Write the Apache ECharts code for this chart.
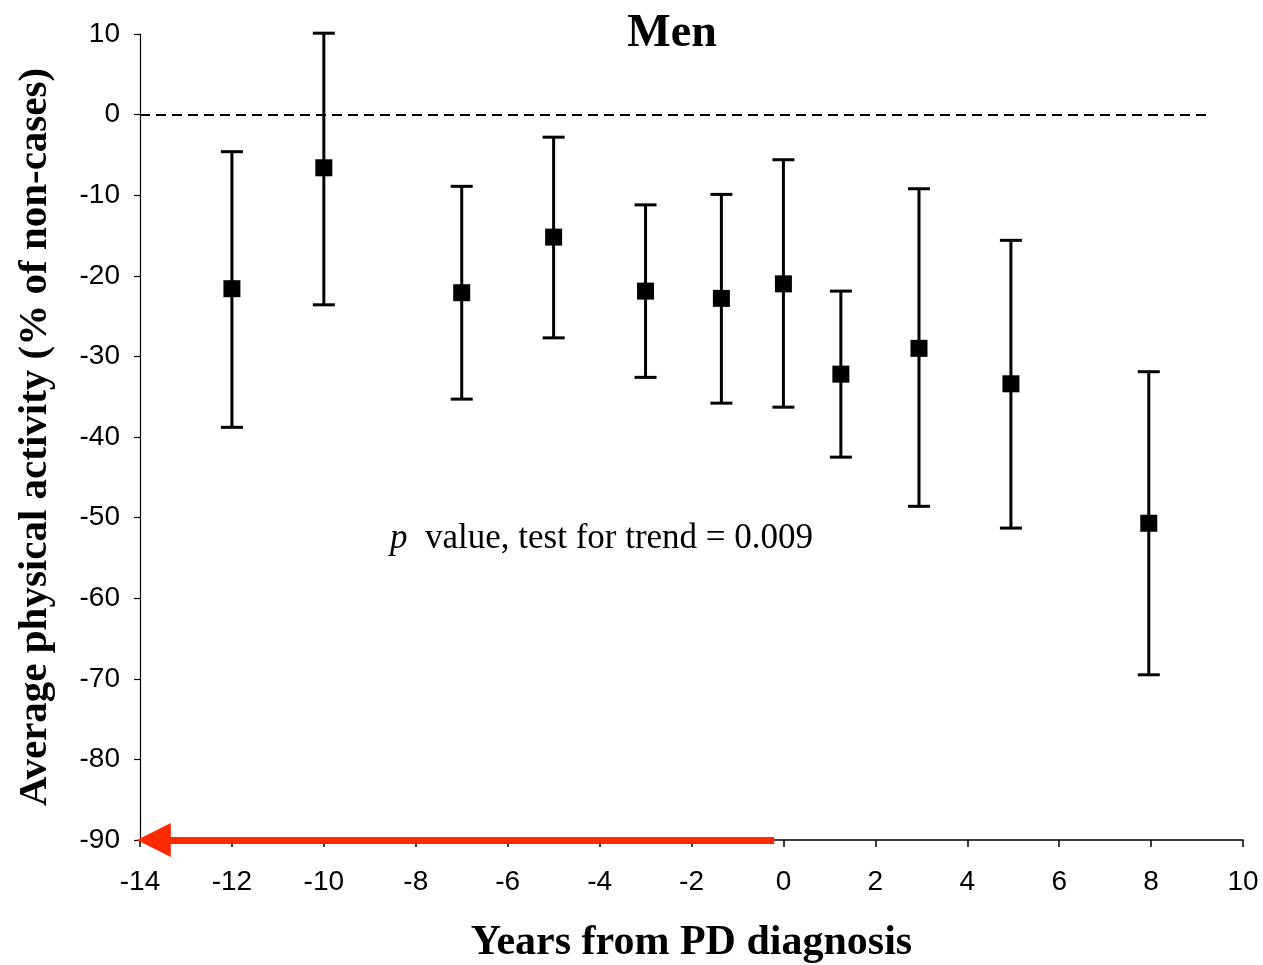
<!DOCTYPE html>
<html>
<head>
<meta charset="utf-8">
<script src="https://cdn.jsdelivr.net/npm/echarts@6/dist/echarts.min.js"></script>
<style>html,body{margin:0;padding:0;background:#fff}#c{width:1263px;height:965px}</style>
</head>
<body>
<div id="c"></div>
<script>
// Data
var years  = [-12, -10, -7, -5, -3, -1.35, 0, 1.25, 2.95, 4.95, 7.95];
var means  = [-21.6, -6.6, -22.1, -15.2, -21.9, -22.8, -21.0, -32.2, -29.0, -33.4, -50.7];
var lowerCI = [-38.8, -23.6, -35.3, -27.7, -32.6, -35.8, -36.3, -42.5, -48.6, -51.3, -69.5];
var upperCI = [-4.6, 10.1, -8.9, -2.8, -11.2, -9.9, -5.6, -21.9, -9.2, -15.6, -31.9];
var xTicks = [-14, -12, -10, -8, -6, -4, -2, 0, 2, 4, 6, 8, 10];
var yTicks = [10, 0, -10, -20, -30, -40, -50, -60, -70, -80, -90];
var refLine = [[-14, 0], [9.2, 0]];
var arrowLine = [[-0.2, -90], [-13.7, -90]];
var titleText = 'Men';
var xName = 'Years from PD diagnosis';
var yName = 'Average physical activity (% of non-cases)';
var noteText = 'value, test for trend = 0.009';

var errData = years.map(function (x, i) { return [x, lowerCI[i], upperCI[i]]; });
var ptData = years.map(function (x, i) { return [x, means[i]]; });

var chart = echarts.init(document.getElementById('c'), null, {renderer: 'canvas'});
var serif = '"Liberation Serif", "Times New Roman", serif';
var sans = '"Liberation Sans", Arial, sans-serif';

chart.setOption({
  animation: false,
  backgroundColor: '#fff',
  title: {
    text: titleText, left: 667, top: 6, textAlign: 'center',
    textStyle: {fontFamily: serif, fontWeight: 'bold', fontSize: 46, color: '#000'}
  },
  grid: {left: 140, right: 20, top: 34, bottom: 125, containLabel: false, outerBoundsMode: 'none'},
  xAxis: {
    type: 'value', min: -14, max: 10, interval: 2,
    name: xName, nameLocation: 'middle', nameGap: 82,
    nameTextStyle: {fontFamily: serif, fontWeight: 'bold', fontSize: 42, color: '#000'},
    axisLine: {show: true, onZero: false, lineStyle: {color: '#000', width: 1.5}},
    axisTick: {show: true, inside: false, length: 7, lineStyle: {color: '#000', width: 1.5}},
    axisLabel: {fontFamily: sans, fontSize: 28, color: '#000', margin: 28},
    splitLine: {show: false}
  },
  yAxis: {
    type: 'value', min: -90, max: 10, interval: 10,
    name: yName, nameLocation: 'middle', nameGap: 84, nameRotate: 90,
    nameTextStyle: {fontFamily: serif, fontWeight: 'bold', fontSize: 41, color: '#000'},
    axisLine: {show: true, onZero: false, lineStyle: {color: '#000', width: 1.2}},
    axisTick: {show: true, inside: false, length: 6, lineStyle: {color: '#000', width: 1.2}},
    axisLabel: {fontFamily: sans, fontSize: 28, color: '#000', margin: 20},
    splitLine: {show: false}
  },
  graphic: [
    {type: 'text', left: 390, top: 521, style: {text: 'p', font: 'italic 35px ' + serif, fill: '#000'}},
    {type: 'text', left: 425, top: 521, style: {text: noteText, font: '35px ' + serif, fill: '#000'}}
  ],
  series: [
    {
      type: 'line', data: [], silent: true,
      markLine: {
        silent: true, symbol: ['none', 'none'], label: {show: false},
        lineStyle: {color: '#000', type: [10, 6], width: 2},
        data: [[{coord: refLine[0]}, {coord: refLine[1]}]]
      }
    },
    {
      type: 'custom',
      data: errData,
      z: 3,
      renderItem: function (params, api) {
        var x = api.value(0);
        var lo = api.coord([x, api.value(1)]);
        var hi = api.coord([x, api.value(2)]);
        var half = 11;
        var st = {stroke: '#000', lineWidth: 3};
        return {
          type: 'group',
          children: [
            {type: 'line', shape: {x1: lo[0], y1: lo[1], x2: hi[0], y2: hi[1]}, style: st},
            {type: 'line', shape: {x1: lo[0] - half, y1: lo[1], x2: lo[0] + half, y2: lo[1]}, style: st},
            {type: 'line', shape: {x1: hi[0] - half, y1: hi[1], x2: hi[0] + half, y2: hi[1]}, style: st}
          ]
        };
      }
    },
    {
      type: 'scatter', data: ptData, symbol: 'rect', symbolSize: 17, z: 4,
      itemStyle: {color: '#000', opacity: 1}
    },
    {
      type: 'line', data: [], silent: true,
      markLine: {
        silent: true, symbol: ['none', 'triangle'], symbolSize: [34, 34], label: {show: false},
        lineStyle: {color: '#ff2a00', type: 'solid', width: 7, opacity: 1},
        itemStyle: {color: '#ff2a00'},
        data: [[{coord: arrowLine[0]}, {coord: arrowLine[1]}]]
      },
      z: 5
    }
  ]
});
</script>
</body>
</html>
